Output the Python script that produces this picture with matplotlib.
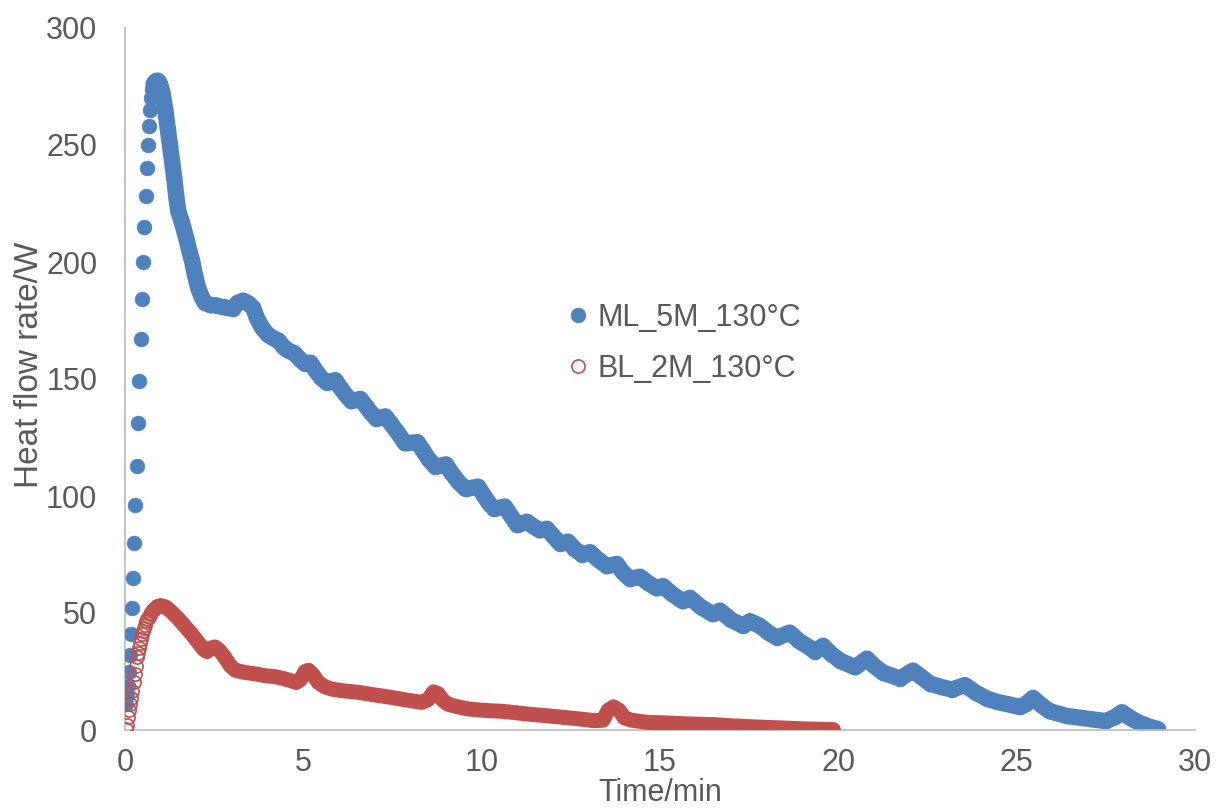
import matplotlib
matplotlib.use("Agg")
import matplotlib.pyplot as plt

plt.rcParams['font.family'] = ['Liberation Sans', 'DejaVu Sans']

# ---------------- data ----------------
series_labels = ["ML_5M_130°C", "BL_2M_130°C"]

blue_time = [
    0.04, 0.06, 0.08, 0.11, 0.14, 0.17, 0.20, 0.23, 0.26, 0.29,
    0.33, 0.36, 0.39, 0.44, 0.48, 0.51, 0.54, 0.58, 0.61, 0.64,
    0.67, 0.70, 0.73, 0.76, 0.80, 0.84, 0.88, 0.92, 0.95, 0.98,
    1.05, 1.13, 1.20, 1.26, 1.32, 1.38, 1.43, 1.49, 1.56, 1.63,
    1.72, 1.80, 1.88, 1.96, 2.05, 2.15, 2.24, 2.40, 2.55, 2.66,
    2.85, 3.03, 3.15, 3.31, 3.45, 3.59, 3.70, 3.84, 4.00, 4.15,
    4.30, 4.45, 4.60, 4.75, 4.90, 5.05, 5.20, 5.35, 5.50, 5.65,
    5.90, 6.05, 6.20, 6.35, 6.60, 6.75, 6.90, 7.05, 7.30, 7.45,
    7.65, 7.85, 8.20, 8.35, 8.50, 8.70, 9.00, 9.15, 9.35, 9.55,
    9.90, 10.05, 10.20, 10.35, 10.65, 10.80, 11.00, 11.27, 11.45, 11.63,
    11.83, 12.00, 12.20, 12.42, 12.60, 12.81, 13.04, 13.25, 13.51, 13.79,
    13.95, 14.16, 14.44, 14.65, 14.91, 15.08, 15.35, 15.64, 15.84, 16.15,
    16.48, 16.68, 17.00, 17.33, 17.52, 17.80, 18.05, 18.28, 18.64, 18.90,
    19.20, 19.34, 19.57, 19.80, 20.05, 20.47, 20.80, 21.00, 21.25, 21.73,
    22.09, 22.30, 22.57, 22.90, 23.18, 23.55, 23.85, 24.17, 24.45, 24.76,
    25.09, 25.25, 25.46, 25.70, 25.93, 26.40, 26.90, 27.50, 27.75, 27.95,
    28.20, 28.45, 28.70, 28.96,
]
blue_flow = [
    11, 15, 19, 25, 32, 41, 52, 65, 80, 96,
    113, 131, 149, 167, 184, 200, 215, 228, 240, 250,
    258, 265, 270, 274, 276, 277, 277.5, 277.5, 277, 276,
    272.5, 265, 257, 250, 243, 236, 229, 222, 218.5, 215,
    210, 205, 200.5, 194.5, 189, 185, 182.5, 181.5, 181.5, 181,
    180.5, 180, 182.5, 183.5, 182.5, 180.5, 176, 172, 169, 167.5,
    166.5, 163.5, 162, 161, 158.5, 156.5, 157, 153.5, 150.5, 148.5,
    149.5, 146, 143, 140.5, 141.5, 138.5, 135.5, 133, 134, 131,
    127, 122.5, 123, 119.5, 116, 112.5, 113.5, 110, 106, 103,
    104, 100.5, 97, 94.5, 95.5, 92, 87.5, 89, 87, 85.3,
    86, 83, 79.6, 80.5, 77.5, 75, 76, 73, 70, 71,
    67.5, 64.5, 65.5, 63, 60.5, 61.5, 58, 55, 56.5, 52.5,
    49.5, 51, 47, 44.5, 46.5, 44.5, 41.5, 39.5, 41.6, 38,
    35.2, 33.5, 36, 32.5, 29.6, 26.8, 30.5, 27.5, 24.5, 22,
    25.4, 23, 19.8, 18.3, 17.3, 19.2, 16, 13.4, 12, 11,
    9.8, 11, 13.7, 10.5, 8, 6, 5, 3.8, 5.5, 7.6,
    5, 3, 1.5, 0.4,
]

red_time = [
    0.03, 0.06, 0.09, 0.12, 0.15, 0.18, 0.21, 0.24, 0.27, 0.30,
    0.33, 0.36, 0.39, 0.42, 0.45, 0.48, 0.51, 0.54, 0.57, 0.60,
    0.63, 0.66, 0.69, 0.72, 0.75, 0.78, 0.81, 0.84, 0.87, 0.90,
    0.93, 0.96, 1.00,
    1.15, 1.30, 1.50, 1.70, 1.87, 2.05, 2.20, 2.30, 2.40, 2.52,
    2.65, 2.80, 2.95, 3.10, 3.36, 3.65, 3.93, 4.20, 4.39, 4.60,
    4.80, 4.92, 5.05, 5.15, 5.28, 5.42, 5.60, 5.79, 6.10, 6.54,
    7.00, 7.48, 7.90, 8.32, 8.50, 8.65, 8.78, 8.92, 9.06, 9.30,
    9.62, 9.95, 10.30, 10.56, 10.89, 11.30, 11.82, 12.30, 12.76, 13.15,
    13.40, 13.55, 13.70, 13.85, 14.00, 14.20, 14.63, 15.20, 15.80, 16.49,
    17.00, 17.70, 18.36, 19.00, 19.50, 19.86,
]
red_flow = [
    0.5, 2, 5.5, 8.5, 11, 13.5, 16.5, 20.5, 24, 27.5,
    31, 33, 35, 37, 39, 41, 42.4, 43.8, 45, 46.4,
    47.3, 48.2, 49.4, 50.2, 50.9, 51.4, 51.9, 52.3, 52.6, 52.9,
    53.1, 53.2, 53.2,
    52.5, 50.5, 47.5, 44, 41, 37.5, 34.5, 33.5, 35, 35.5,
    34, 31, 27.5, 25.5, 24.6, 24, 23.2, 22.8, 22.2, 21.3,
    20.3, 21.5, 25, 25.5, 23.5, 20.3, 18.5, 17.5, 16.8, 16.1,
    15, 13.9, 12.8, 11.8, 13, 16.3, 15.5, 12.5, 11, 10,
    9, 8.5, 8.2, 8, 7.5, 6.8, 6.1, 5.4, 4.7, 4.0,
    4.2, 8.5, 9.9, 8.5, 5.2, 4.2, 3.3, 3.0, 2.6, 2.3,
    1.8, 1.3, 0.9, 0.5, 0.3, 0.2,
]

x_ticks = [0, 5, 10, 15, 20, 25, 30]
y_ticks = [0, 50, 100, 150, 200, 250, 300]
x_label = "Time/min"
y_label = "Heat flow rate/W"

assert len(blue_time) == len(blue_flow)
assert len(red_time) == len(red_flow)

# ---------------- style ----------------
BLUE = "#4F81BD"
RED = "#C0504D"
TXT = "#595959"
AXC = "#BFBFBF"
W, H = 1217, 810

fig = plt.figure(figsize=(W / 100, H / 100), dpi=100)
ax = fig.add_axes([125 / W, 1 - 730 / H, 1070 / W, 702 / H])

n_blue_sparse = 25   # well separated dots of the fast rise
n_red_sparse = 33    # overlapping open circles of the rise

# blue: dense part drawn as overlapping dots (thick round line + markers)
ax.plot(blue_time[n_blue_sparse - 1:], blue_flow[n_blue_sparse - 1:],
        color=BLUE, lw=11.8, solid_joinstyle='round', solid_capstyle='round',
        marker='o', ms=10.6, mfc=BLUE, mec=BLUE, mew=0.5, zorder=2)
ax.plot(blue_time[:n_blue_sparse], blue_flow[:n_blue_sparse], ls='none',
        marker='o', ms=10.6, mfc=BLUE, mec=BLUE, mew=0.5,
        label=series_labels[0], zorder=3)

# red
ax.plot(red_time[n_red_sparse - 1:], red_flow[n_red_sparse - 1:],
        color=RED, lw=10.8, solid_joinstyle='round', solid_capstyle='round',
        zorder=4)
ax.plot(red_time[:n_red_sparse], red_flow[:n_red_sparse], ls='none',
        marker='o', ms=9.5, mfc='none', mec=RED, mew=1.2,
        label=series_labels[1], zorder=5)

ax.set_xlim(0, 30)
ax.set_ylim(0, 300)
ax.set_xticks(x_ticks)
ax.set_yticks(y_ticks)
ax.set_xticklabels([str(v) for v in x_ticks])
ax.set_yticklabels([str(v) for v in y_ticks])
ax.tick_params(axis='both', length=0, labelsize=22, labelcolor=TXT)
ax.tick_params(axis='y', pad=20)
ax.tick_params(axis='x', pad=13)

for s in ('top', 'right'):
    ax.spines[s].set_visible(False)
for s in ('left', 'bottom'):
    ax.spines[s].set_color(AXC)
    ax.spines[s].set_linewidth(1.3)

ax.set_xlabel(x_label, fontsize=22, color=TXT)
ax.xaxis.set_label_coords(0.5, -0.068)
ax.set_ylabel(y_label, fontsize=24, color=TXT)
ax.yaxis.set_label_coords(-0.075, 0.52)

ax.legend(loc='center left', bbox_to_anchor=(0.415, 0.551), frameon=False,
          fontsize=22, labelcolor=TXT, handlelength=0.6, handletextpad=0.33,
          borderpad=0, borderaxespad=0, labelspacing=0.7, markerscale=1.0)

fig.savefig("out.png", dpi=100)
